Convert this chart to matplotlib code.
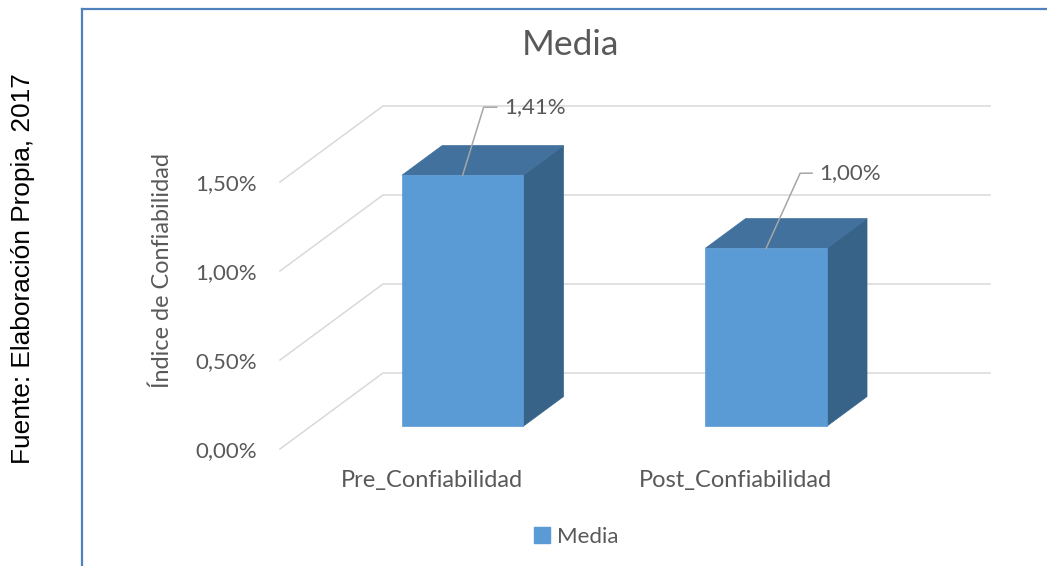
import matplotlib
matplotlib.use('Agg')
import matplotlib.pyplot as plt
from matplotlib.patches import Polygon, Patch
from matplotlib.lines import Line2D

# valores de la media (%)
categorias = ['Pre_Confiabilidad', 'Post_Confiabilidad']
media = [1.41, 1.00]
etiquetas = ['1,41%', '1,00%']
ticks_y = [0.0, 0.5, 1.0, 1.5]
ticks_y_txt = ['0,00%', '0,50%', '1,00%', '1,50%']

W, H = 1047, 566
fig = plt.figure(figsize=(W / 100, H / 100), dpi=100)
fig.patch.set_facecolor('white')

# ejes: frente del piso de x=280 a x=887 px, 0% en y=449 px, 1.5% en y=182 px
ax = fig.add_axes([280 / W, (H - 449) / H, 607 / W, 267 / H])
ax.set_xlim(0, 2)
ax.set_ylim(0, 1.5)
ax.set_facecolor('none')
for s in ax.spines.values():
    s.set_visible(False)

PX_X = 607 / 2      # px por unidad de categoria
PX_Y = 267 / 1.5    # px por 1 %
DX = 103 / PX_X     # desplazamiento de profundidad completa
DY = 76 / PX_Y

def proj(x, v, d):
    return x + d * DX, v + d * DY

gris = '#595959'
fuente = 'Lato'

# lineas de division con perspectiva
for v in ticks_y:
    p0 = proj(0, v, 0)
    p1 = proj(0, v, 1)
    p2 = proj(2, v, 1)
    ax.plot([p0[0], p1[0], p2[0]], [p0[1], p1[1], p2[1]], color='#d9d9d9',
            lw=1.1, clip_on=False, zorder=1)

# barras 3D
c_frente = '#5b9bd5'
c_arriba = '#41719c'
c_lado = '#386389'
d0, d1 = 0.30, 0.69
media_ancho = 0.2
for i, v in enumerate(media):
    xc = i + 0.5
    xl, xr = xc - media_ancho, xc + media_ancho
    lado = [proj(xr, 0, d0), proj(xr, 0, d1), proj(xr, v, d1), proj(xr, v, d0)]
    arriba = [proj(xl, v, d0), proj(xl, v, d1), proj(xr, v, d1), proj(xr, v, d0)]
    frente = [proj(xl, 0, d0), proj(xr, 0, d0), proj(xr, v, d0), proj(xl, v, d0)]
    for pts, c in ((lado, c_lado), (arriba, c_arriba), (frente, c_frente)):
        ax.add_patch(Polygon(pts, closed=True, facecolor=c, edgecolor=c,
                             lw=0.5, clip_on=False, zorder=3))

# etiquetas de datos con linea guia (desplazamientos en px)
guias = [((21, 68), 13, 8), ((34, 75), 12, 7)]
for i, v in enumerate(media):
    bx, by = proj(i + 0.5, v, d0)
    (ex, ey), cola, sep = guias[i]
    x1, y1 = bx + ex / PX_X, by + ey / PX_Y
    x2 = x1 + cola / PX_X
    ax.plot([bx, x1, x2], [by, y1, y1], color='#a6a6a6', lw=1.1,
            clip_on=False, zorder=4)
    ax.text(x2 + sep / PX_X, y1, etiquetas[i], ha='left', va='center',
            fontsize=16, color=gris, family=fuente, zorder=5)

ax.set_yticks(ticks_y)
ax.set_yticklabels(ticks_y_txt)
ax.set_xticks([0.5, 1.5])
ax.set_xticklabels(categorias)
ax.tick_params(axis='y', length=0, pad=16.5, labelsize=16, labelcolor=gris)
ax.tick_params(axis='x', length=0, pad=15, labelsize=17, labelcolor=gris)
for lbl in ax.get_xticklabels() + ax.get_yticklabels():
    lbl.set_family(fuente)

fig.text(162 / W, 1 - 270 / H, 'Índice de Confiabilidad', rotation=90,
         ha='center', va='center', fontsize=16.8, color=gris, family=fuente)
fig.text(570 / W, 1 - 45 / H, 'Media', ha='center', va='center',
         fontsize=25.5, color=gris, family=fuente)

# leyenda
fig.legend(handles=[Patch(facecolor=c_frente, edgecolor=c_frente)], labels=['Media'],
           loc='center', bbox_to_anchor=(576 / W, 1 - 537 / H), frameon=False,
           handlelength=0.75, handleheight=0.75, handletextpad=0.3,
           prop={'family': fuente, 'size': 16}, labelcolor=gris)

# borde del grafico
azul = '#4f81bd'
fig.add_artist(Line2D([82 / W, 82 / W], [0, 1 - 8.5 / H], color=azul, lw=1.6))
fig.add_artist(Line2D([82 / W, 1], [1 - 8.5 / H, 1 - 8.5 / H], color=azul, lw=1.6))

# fuente
fig.text(23 / W, 1 - 269 / H, 'Fuente: Elaboración Propia, 2017', rotation=90,
         ha='center', va='center', fontsize=18.9, color='black', family='Liberation Sans')

fig.savefig('out.png', dpi=100)
